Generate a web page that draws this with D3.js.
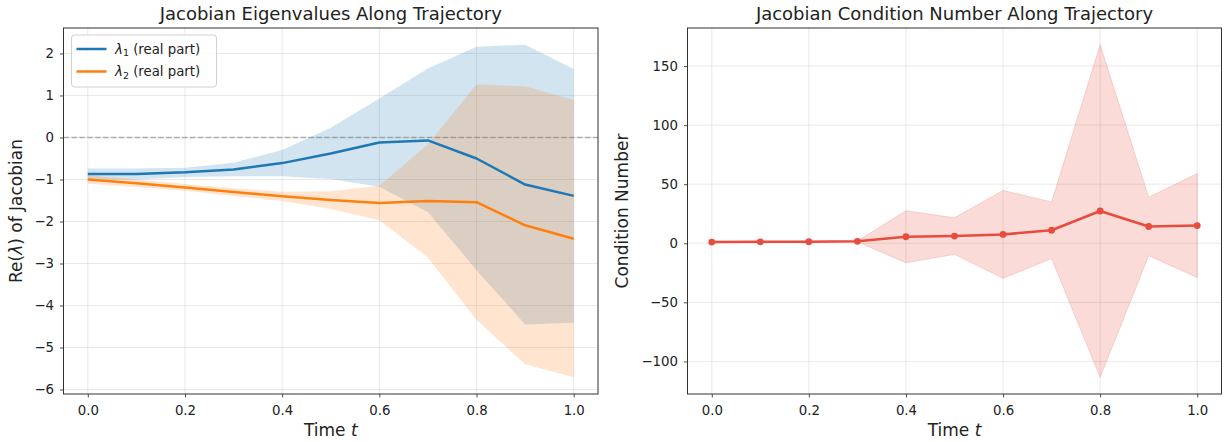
<!DOCTYPE html>
<html>
<head>
<meta charset="utf-8">
<script src="https://cdn.jsdelivr.net/npm/d3@7"></script>
<style>
  html, body { margin: 0; padding: 0; background: #ffffff; }
  svg { display: block; font-family: "DejaVu Sans", sans-serif; }
</style>
</head>
<body>
<svg id="fig" width="1225" height="442"></svg>
<script>
// Time samples along the trajectory
const times = [0.0, 0.1, 0.2, 0.3, 0.4, 0.5, 0.6, 0.7, 0.8, 0.9, 1.0];

// Real parts of the Jacobian eigenvalues (mean and spread over runs)
const lambda1Mean = [-0.87, -0.87, -0.83, -0.76, -0.61, -0.38, -0.12, -0.07, -0.50, -1.12, -1.39];
const lambda1Std  = [0.13, 0.13, 0.11, 0.16, 0.31, 0.61, 1.05, 1.71, 2.66, 3.33, 3.02];
const lambda2Mean = [-1.00, -1.09, -1.19, -1.30, -1.40, -1.49, -1.56, -1.51, -1.54, -2.09, -2.41];
const lambda2Std  = [0.10, 0.09, 0.08, 0.09, 0.11, 0.21, 0.41, 1.35, 2.80, 3.31, 3.30];

// Condition number of the Jacobian (mean and spread over runs)
const condMean = [1.0, 1.2, 1.3, 1.6, 5.5, 6.1, 7.5, 11.0, 27.3, 14.2, 15.0];
const condStd  = [0.4, 0.4, 0.4, 0.4, 22.0, 15.5, 37.2, 24.0, 140.8, 24.8, 44.0];

const xTicks = [0.0, 0.2, 0.4, 0.6, 0.8, 1.0];
const yTicksEig = [-6, -5, -4, -3, -2, -1, 0, 1, 2];
const yTicksCond = [-100, -50, 0, 50, 100, 150];

const series = [
  { name: "1", mean: lambda1Mean, std: lambda1Std, color: "#1f77b4" },
  { name: "2", mean: lambda2Mean, std: lambda2Std, color: "#ff7f0e" }
];

const svg = d3.select("#fig");
const fmtX = d3.format(".1f");
const fmtY = d3.format("d");
const TICK_FONT = "13.3px";
const LABEL_FONT = "17px";
const TITLE_FONT = "18px";

// Pad a data extent by 5% on each side
function padded(lo, hi) {
  const m = (hi - lo) * 0.05;
  return [lo - m, hi + m];
}

function drawGrid(g, x, y, yTicks, w, h) {
  g.append("g").selectAll("line").data(xTicks).join("line")
    .attr("x1", d => x(d)).attr("x2", d => x(d))
    .attr("y1", 0).attr("y2", h)
    .attr("stroke", "#b0b0b0").attr("stroke-opacity", 0.35).attr("stroke-width", 0.8);
  g.append("g").selectAll("line").data(yTicks).join("line")
    .attr("x1", 0).attr("x2", w)
    .attr("y1", d => y(d)).attr("y2", d => y(d))
    .attr("stroke", "#b0b0b0").attr("stroke-opacity", 0.35).attr("stroke-width", 0.8);
}

function drawAxes(g, x, y, yTicks, w, h) {
  const xa = g.append("g").attr("transform", `translate(0,${h})`)
    .call(d3.axisBottom(x).tickValues(xTicks).tickFormat(fmtX).tickSize(3.5).tickPadding(8));
  const ya = g.append("g")
    .call(d3.axisLeft(y).tickValues(yTicks).tickFormat(fmtY).tickSize(3.5).tickPadding(6));
  [xa, ya].forEach(a => {
    a.select(".domain").remove();
    a.selectAll("line").attr("stroke", "#222").attr("stroke-width", 0.8);
    a.selectAll("text").attr("fill", "#222").attr("font-size", TICK_FONT)
      .attr("font-family", "DejaVu Sans, sans-serif");
  });
  g.append("rect").attr("x", 0).attr("y", 0).attr("width", w).attr("height", h)
    .attr("fill", "none").attr("stroke", "#333").attr("stroke-width", 1);
}

function xLabel(g, w, h) {
  const t = g.append("text").attr("x", w / 2).attr("y", h + 41.5)
    .attr("text-anchor", "middle").attr("font-size", LABEL_FONT).attr("fill", "#222");
  t.append("tspan").text("Time ");
  t.append("tspan").attr("font-style", "italic").text("t");
}

function title(g, w, text) {
  g.append("text").attr("x", w / 2).attr("y", -8)
    .attr("text-anchor", "middle").attr("font-size", TITLE_FONT).attr("fill", "#222")
    .text(text);
}

// ---------- Left panel: eigenvalues ----------
{
  const left = 63.5, top = 28, w = 534.5, h = 366;
  const g = svg.append("g").attr("transform", `translate(${left},${top})`);
  const x = d3.scaleLinear().domain(padded(0.0, 1.0)).range([0, w]);
  const lows = series.flatMap(s => s.mean.map((m, i) => m - s.std[i]));
  const highs = series.flatMap(s => s.mean.map((m, i) => m + s.std[i]));
  const y = d3.scaleLinear().domain(padded(d3.min(lows), d3.max(highs))).range([h, 0]);

  drawGrid(g, x, y, yTicksEig, w, h);

  const area = d3.area()
    .x((d, i) => x(times[i]))
    .y0(d => y(d[0])).y1(d => y(d[1]));
  const line = d3.line().x((d, i) => x(times[i])).y(d => y(d));

  series.forEach(s => {
    const band = s.mean.map((m, i) => [m - s.std[i], m + s.std[i]]);
    g.append("path").datum(band).attr("d", area)
      .attr("fill", s.color).attr("fill-opacity", 0.2);
  });

  // reference line at zero
  g.append("line").attr("x1", 0).attr("x2", w).attr("y1", y(0)).attr("y2", y(0))
    .attr("stroke", "#808080").attr("stroke-opacity", 0.6).attr("stroke-width", 1.5)
    .attr("stroke-dasharray", "5.5,2.4");

  series.forEach(s => {
    g.append("path").datum(s.mean).attr("d", line)
      .attr("fill", "none").attr("stroke", s.color).attr("stroke-width", 2.5)
      .attr("stroke-linejoin", "round");
  });

  drawAxes(g, x, y, yTicksEig, w, h);
  xLabel(g, w, h);
  title(g, w, "Jacobian Eigenvalues Along Trajectory");

  // y label
  const yl = g.append("text").attr("transform", `translate(${-42},${h / 2}) rotate(-90)`)
    .attr("text-anchor", "middle").attr("font-size", LABEL_FONT).attr("fill", "#222");
  yl.append("tspan").text("Re(");
  yl.append("tspan").attr("font-style", "italic").text("λ");
  yl.append("tspan").text(") of Jacobian");

  // legend
  const lg = g.append("g").attr("transform", "translate(8,7)");
  lg.append("rect").attr("x", 0).attr("y", 0).attr("width", 145).attr("height", 52)
    .attr("rx", 3).attr("fill", "#fff").attr("fill-opacity", 0.8)
    .attr("stroke", "#d0d0d0").attr("stroke-width", 1);
  series.forEach((s, i) => {
    const cy = 14 + i * 22.5;
    lg.append("line").attr("x1", 5).attr("x2", 35).attr("y1", cy).attr("y2", cy)
      .attr("stroke", s.color).attr("stroke-width", 2.5);
    const t = lg.append("text").attr("x", 43.5).attr("y", cy + 4.8)
      .attr("font-size", TICK_FONT).attr("fill", "#222");
    t.append("tspan").attr("font-style", "italic").text("λ");
    t.append("tspan").attr("font-size", "9.5px").attr("dy", 2.5).text(s.name);
    t.append("tspan").attr("dy", -2.5).text(" (real part)");
  });
}

// ---------- Right panel: condition number ----------
{
  const left = 687.5, top = 28, w = 534, h = 366;
  const color = "#e74c3c";
  const g = svg.append("g").attr("transform", `translate(${left},${top})`);
  const x = d3.scaleLinear().domain(padded(0.0, 1.0)).range([0, w]);
  const band = condMean.map((m, i) => [m - condStd[i], m + condStd[i]]);
  const y = d3.scaleLinear()
    .domain(padded(d3.min(band, d => d[0]), d3.max(band, d => d[1]))).range([h, 0]);

  drawGrid(g, x, y, yTicksCond, w, h);

  const area = d3.area().x((d, i) => x(times[i])).y0(d => y(d[0])).y1(d => y(d[1]));
  g.append("path").datum(band).attr("d", area)
    .attr("fill", color).attr("fill-opacity", 0.2)
    .attr("stroke", color).attr("stroke-opacity", 0.2).attr("stroke-width", 1);

  const line = d3.line().x((d, i) => x(times[i])).y(d => y(d));
  g.append("path").datum(condMean).attr("d", line)
    .attr("fill", "none").attr("stroke", color).attr("stroke-width", 2.5)
    .attr("stroke-linejoin", "round");
  g.append("g").selectAll("circle").data(condMean).join("circle")
    .attr("cx", (d, i) => x(times[i])).attr("cy", d => y(d)).attr("r", 3.4)
    .attr("fill", color);

  drawAxes(g, x, y, yTicksCond, w, h);
  xLabel(g, w, h);
  title(g, w, "Jacobian Condition Number Along Trajectory");

  g.append("text").attr("transform", `translate(${-59.5},${h / 2}) rotate(-90)`)
    .attr("text-anchor", "middle").attr("font-size", LABEL_FONT).attr("fill", "#222")
    .text("Condition Number");
}
</script>
</body>
</html>
